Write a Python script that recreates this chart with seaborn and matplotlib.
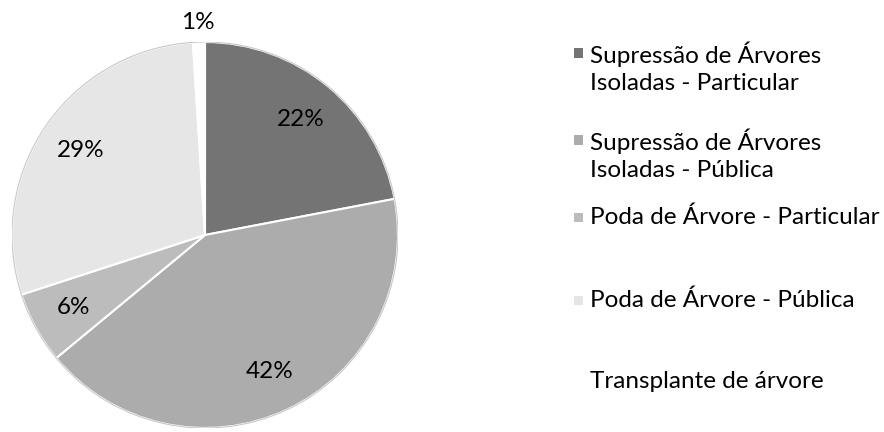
import matplotlib
matplotlib.use('Agg')
import matplotlib.pyplot as plt
import numpy as np
import seaborn as sns
from matplotlib.patches import Rectangle

# --- data ---
categories = [
    'Supressão de Árvores\nIsoladas - Particular',
    'Supressão de Árvores\nIsoladas - Pública',
    'Poda de Árvore - Particular',
    'Poda de Árvore - Pública',
    'Transplante de árvore',
]
shares = [22, 42, 6, 29, 1]
greys = ['#747474', '#acacac', '#bcbcbc', '#e6e6e6', '#ffffff']

# legend row centres (pixels from top), the original spacing is uneven
legend_y = [68, 155, 217, 300, 382]

sns.set_theme(style='white')
plt.rcParams['font.family'] = ['Lato', 'DejaVu Sans']

W, H = 884, 432
fig = plt.figure(figsize=(W / 100, H / 100), dpi=100)

cx, cy, r = 205, 235, 193
ax = fig.add_axes([(cx - r) / W, (H - cy - r) / H, 2 * r / W, 2 * r / H])

wedges, _ = ax.pie(shares, colors=greys, startangle=90, counterclock=False,
                   wedgeprops=dict(edgecolor='white', linewidth=1.5))
# faint outer rim like the scanned original
ax.add_patch(plt.Circle((0, 0), 1, fill=False, edgecolor='#c8c8c8', lw=0.8))
ax.set_xlim(-1, 1)
ax.set_ylim(-1, 1)
ax.set_aspect('equal')
ax.axis('off')

for w, val in zip(wedges, shares):
    mid = np.deg2rad((w.theta1 + w.theta2) / 2)
    dist = 1.1 if val < 3 else 0.78
    ax.text(dist * np.cos(mid), dist * np.sin(mid), f'{val}%',
            ha='center', va='center', fontsize=17.5, color='black', clip_on=False)

# legend drawn by hand to keep the uneven row spacing
for lab, col, y in zip(categories, greys, legend_y):
    n_lines = lab.count('\n') + 1
    first_y = y - (n_lines - 1) * 15
    if col != '#ffffff':
        sq = 9
        fig.patches.append(Rectangle((574 / W, (H - first_y - sq / 2) / H), sq / W, sq / H,
                                     transform=fig.transFigure, facecolor=col,
                                     edgecolor='none'))
    fig.text(590 / W, (H - y) / H, lab, ha='left', va='center', fontsize=17.5,
             linespacing=1.33, color='black')

fig.savefig('out.png', dpi=100, facecolor='white')
